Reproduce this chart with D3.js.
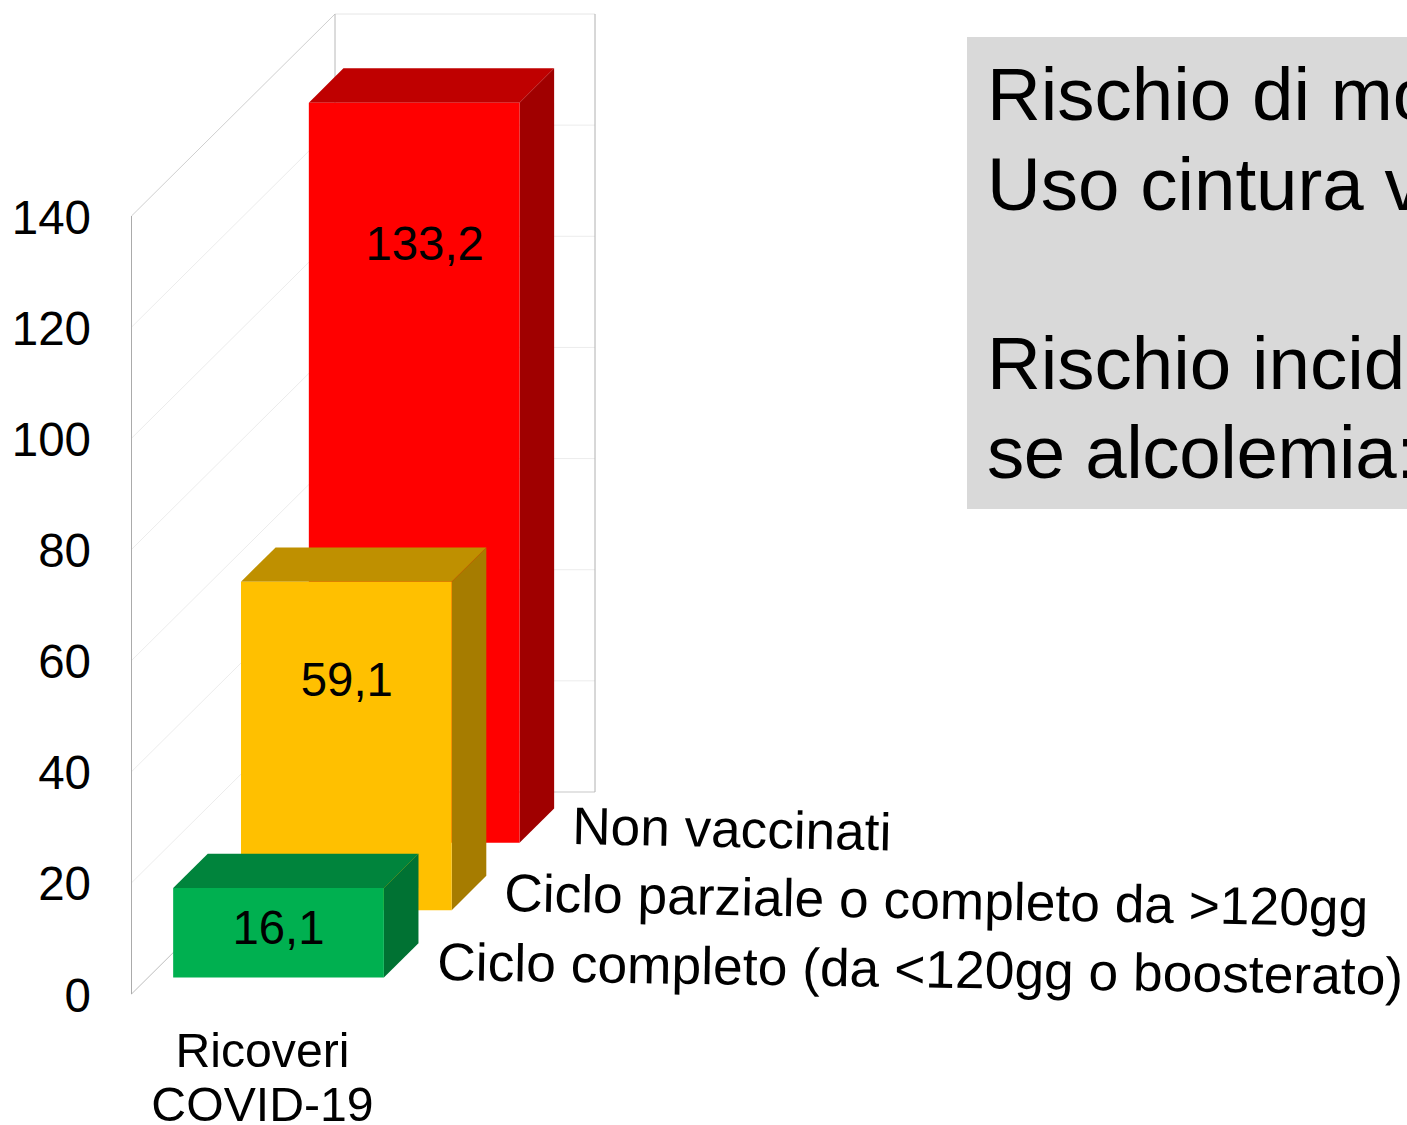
<!DOCTYPE html>
<html><head><meta charset="utf-8">
<script src="https://cdn.jsdelivr.net/npm/d3@7/dist/d3.min.js"></script>
<style>html,body{margin:0;padding:0;background:#fff;overflow:hidden}svg{display:block}text{font-family:"Liberation Sans",Arial,sans-serif;fill:#000}</style>
</head><body><svg id="c" width="1407" height="1125"></svg>
<script>
const seriesNames = ["Ciclo completo (da <120gg o boosterato)", "Ciclo parziale o completo da >120gg", "Non vaccinati"];
const seriesValues = [16.1, 59.1, 133.2];
const valueLabels = ["16,1", "59,1", "133,2"];
const categoryLines = ["Ricoveri", "COVID-19"];
const yTicks = [0, 20, 40, 60, 80, 100, 120, 140];
const noteLines = ["Rischio di mo", "Uso cintura v", "", "Rischio incid", "se alcolemia:"];
const noteSpacing = [0, 0, 0, 0, -0.4];
const frontColors = ["#00b050", "#ffc000", "#ff0000"];
const topColors = ["#00843c", "#bf9000", "#bf0000"];
const sideColors = ["#007233", "#a67c00", "#a00000"];

const svg = d3.select("#c");
const y = d3.scaleLinear().domain([0, 140]).range([994, 216]);
const depth = d3.scaleBand().domain(seriesNames).range([0, 1]).paddingInner(0.49).paddingOuter(0.245);
const dx = d3.scaleLinear().domain([0, 1]).range([0, 203.5]);
const dy = d3.scaleLinear().domain([0, 1]).range([0, -202]);
const wallX = 131.5, wallW = 260;
const barX = d3.scaleBand().domain(["Ricoveri COVID-19"]).range([0.6, wallW + 0.2]).paddingInner(0).paddingOuter(0.116);
const pt = (x, v, d) => [wallX + x + dx(d), y(v) + dy(d)];
const poly = pts => pts.map(p => p.join(",")).join(" ");
const line = d3.line();

const grid = svg.append("g").attr("fill", "none");
yTicks.slice(1, -1).forEach(v => {
  grid.append("path").attr("d", line([pt(0, v, 0), pt(0, v, 1), pt(wallW, v, 1)])).attr("stroke", "#ececec").attr("stroke-width", 1);
});
grid.append("path").attr("d", line([pt(0, 140, 0), pt(0, 140, 1)])).attr("stroke", "#cfcfcf").attr("stroke-width", 1);
grid.append("path").attr("d", line([pt(0, 140, 1), pt(wallW, 140, 1)])).attr("stroke", "#e6e6e6").attr("stroke-width", 1);
grid.append("path").attr("d", line([pt(0, 0, 0), pt(0, 0, 1)])).attr("stroke", "#bdbdbd").attr("stroke-width", 1);
grid.append("path").attr("d", line([pt(0, 0, 1), pt(wallW, 0, 1)])).attr("stroke", "#c8c8c8").attr("stroke-width", 1.2);
grid.append("path").attr("d", line([pt(0, 0, 0), pt(0, 140, 0)])).attr("stroke", "#ababab").attr("stroke-width", 1);
grid.append("path").attr("d", line([pt(0, 0, 1), pt(0, 140, 1)])).attr("stroke", "#b8b8b8").attr("stroke-width", 1);
grid.append("path").attr("d", line([pt(wallW, 0, 1), pt(wallW, 140, 1)])).attr("stroke", "#b0b0b0").attr("stroke-width", 1);

const bw = barX.bandwidth(), b0 = barX("Ricoveri COVID-19");
const order = d3.range(seriesNames.length).reverse();
const bars = svg.append("g");
order.forEach(i => {
  const d0 = depth(seriesNames[i]), d1 = d0 + depth.bandwidth(), v = seriesValues[i];
  const h = y(0) - y(v);
  const p = (x, up, d) => { const q = pt(x, 0, d); return [q[0], q[1] - (up ? h : 0)]; };
  bars.append("polygon").attr("points", poly([p(b0, 1, d0), p(b0, 1, d1), p(b0 + bw, 1, d1), p(b0 + bw, 1, d0)])).attr("fill", topColors[i]);
  bars.append("polygon").attr("points", poly([p(b0 + bw, 0, d0), p(b0 + bw, 1, d0), p(b0 + bw, 1, d1), p(b0 + bw, 0, d1)])).attr("fill", sideColors[i]);
  bars.append("polygon").attr("points", poly([p(b0, 0, d0), p(b0, 1, d0), p(b0 + bw, 1, d0), p(b0 + bw, 0, d0)])).attr("fill", frontColors[i]);
});

// value labels
const labelShift = [0, 0.5, 10.5];
const labelBase = [944, 696, 260];
valueLabels.forEach((t, i) => {
  const d0 = depth(seriesNames[i]);
  const c = pt(b0 + bw / 2, 0, d0)[0];
  svg.append("text").attr("x", c + labelShift[i]).attr("y", labelBase[i])
    .attr("text-anchor", "middle").attr("font-size", 47.4).text(t);
});

// value axis
const axis = d3.axisLeft(y).tickValues(yTicks).tickSize(0).tickPadding(0).tickFormat(d3.format("d"));
const ag = svg.append("g").attr("transform", "translate(91,0)").call(axis);
ag.select(".domain").remove();
ag.selectAll("text").attr("font-size", 47.5).attr("font-family", '"Liberation Sans",Arial,sans-serif').attr("dy", "0.36em").attr("x", 0);

// category label
categoryLines.forEach((t, i) => svg.append("text").attr("x", 262.5).attr("y", 1067 + i * 54).attr("text-anchor", "middle").attr("font-size", 48.2).text(t));

// series labels on the depth axis
const legendStart = [[437, 980, 966, 0.87], [504, 911, 864, 1.02], [572, 844, 319, 1.15]];
seriesNames.forEach((t, i) => {
  const s = legendStart[i];
  svg.append("text").attr("transform", `translate(${s[0]},${s[1]}) rotate(${s[3]})`).attr("font-size", 53)
    .attr("textLength", s[2]).attr("lengthAdjust", "spacingAndGlyphs").text(t);
});

// note box
svg.append("rect").attr("x", 967).attr("y", 37).attr("width", 440).attr("height", 472).attr("fill", "#d9d9d9");
noteLines.forEach((t, i) => svg.append("text").attr("x", 987).attr("y", 120 + i * 89.5).attr("font-size", 74.5).attr("letter-spacing", noteSpacing[i]).text(t));
</script></body></html>
